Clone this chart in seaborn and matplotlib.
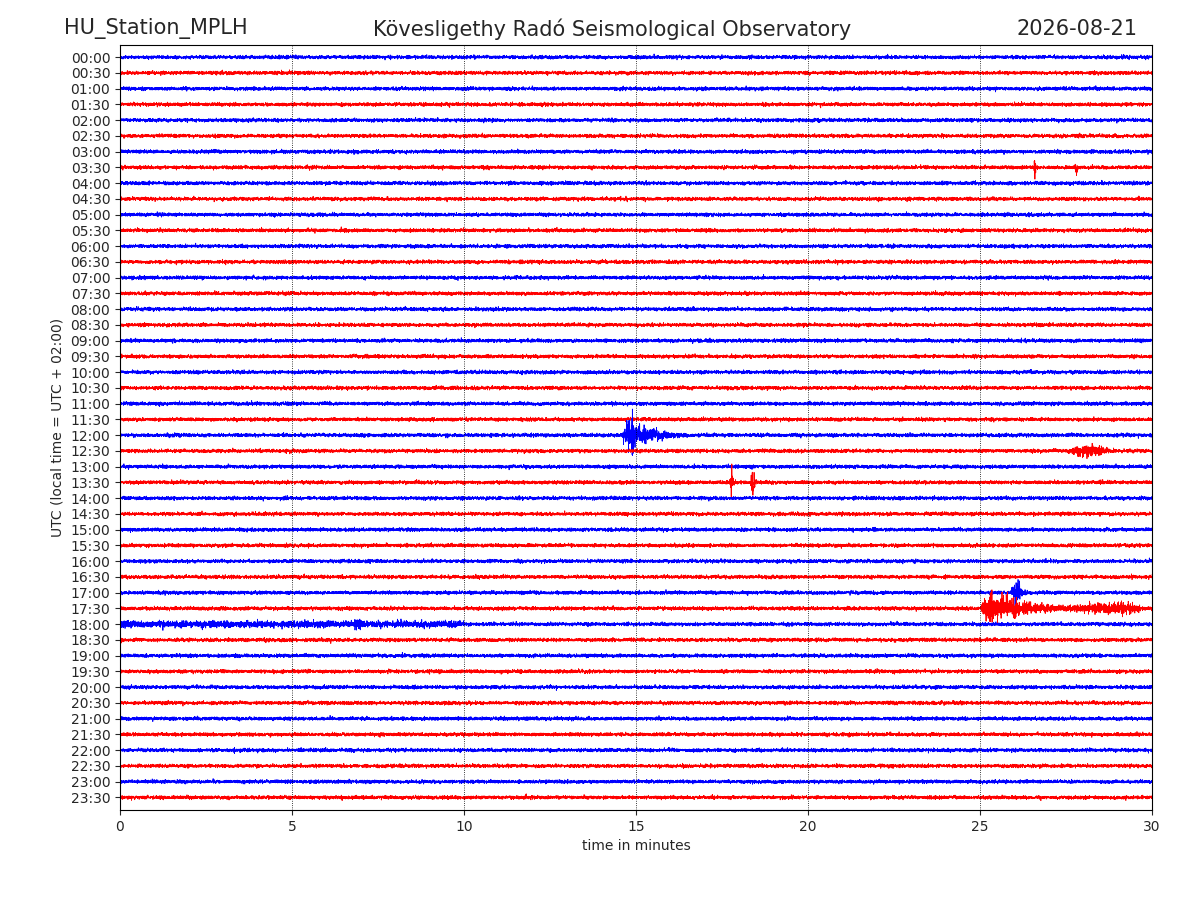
import numpy as np
import matplotlib
matplotlib.use('Agg')
import matplotlib.pyplot as plt
import seaborn as sns

# row labels (UTC) every 30 min
row_labels = ['{:02d}:{:02d}'.format(h, m) for h in range(24) for m in (0, 30)]
row_colors = ['blue', 'red']
noise_level = 0.11  # background amplitude in row units

# events: (row index, start min, end min, peak amplitude, peak fraction)
event_rows = [24, 24, 25, 27, 27, 34, 35, 35, 36, 36, 7, 7]
event_start = [14.55, 14.85, 27.3, 17.72, 18.32, 25.85, 25.0, 26.0, 0.0, 6.7, 26.55, 27.75]
event_end = [16.6, 15.0, 29.3, 17.88, 18.5, 26.4, 27.6, 30.0, 10.0, 7.2, 26.65, 27.85]
event_amp = [0.9, 2.2, 0.5, 0.9, 1.6, 0.9, 1.1, 0.45, 0.22, 0.6, 0.7, 0.8]
event_peak = [0.1, 0.3, 0.45, 0.4, 0.4, 0.4, 0.08, 0.85, 0.5, 0.4, 0.5, 0.5]

n = 9000
t = np.linspace(0, 30, n)
rng = np.random.default_rng(7)

sns.set_style('ticks')
plt.rcParams['font.family'] = ['DejaVu Sans']
fig = plt.figure(figsize=(12, 9), dpi=100)
ax = fig.add_axes([0.1, 0.1, 0.86, 0.85])

for i, lab in enumerate(row_labels):
    amp = np.full(n, noise_level)
    for r, s, e, a, p in zip(event_rows, event_start, event_end, event_amp, event_peak):
        if r != i:
            continue
        m = (t >= s) & (t <= e)
        x = (t[m] - s) / (e - s)
        if i == 36 and s == 0.0:
            env = np.full(x.shape, a)
        else:
            # spindle: rise up to the peak, slower decay after it
            env = np.where(x < p, x / p, np.exp(-2.0 * (x - p) / (1 - p)))
            env = a * env
        amp[m] = np.maximum(amp[m], env)
    trace = rng.standard_normal(n) * amp * 0.45
    sns.lineplot(x=t, y=-i + trace, ax=ax, color=row_colors[i % 2], lw=0.6)

ax.set_xlim(0, 30)
ax.set_ylim(-47.8, 0.77)
ax.set_yticks([-i for i in range(len(row_labels))])
ax.set_yticklabels(row_labels)
ax.set_xticks(range(0, 31, 5))
for x in range(5, 30, 5):
    ax.axvline(x, color='black', ls=':', lw=0.6)
ax.set_xlabel('time in minutes')
ax.set_ylabel('UTC (local time = UTC + 02:00)')
for sp in ax.spines.values():
    sp.set_visible(True)
    sp.set_color('black')

fig.text(0.053, 0.968, 'HU_Station_MPLH', fontsize=15, ha='left', va='center')
fig.text(0.51, 0.968, 'Kövesligethy Radó Seismological Observatory', fontsize=15, ha='center', va='center')
fig.text(0.948, 0.968, '2026-08-21', fontsize=15, ha='right', va='center')

fig.savefig('out.png', dpi=100)
